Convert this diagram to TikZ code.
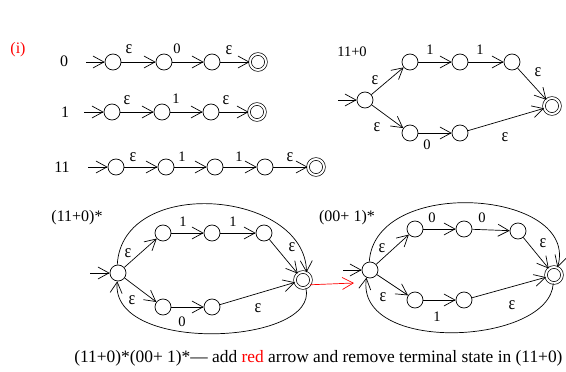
\documentclass[tikz,border=0pt]{standalone}
\usepackage{fontspec}
\usepackage{graphicx}
\setmainfont{Liberation Serif}
\usetikzlibrary{arrows.meta}
\newcommand{\myeps}{\scalebox{1.1}[1.3]{ε}}
\begin{document}
\begin{tikzpicture}[
 x=1pt,y=1pt,line width=0.7pt,
 every node/.style={font=\fontsize{14.5}{17}\selectfont},
 st/.style={circle,draw,minimum size=16pt,inner sep=0pt},
 acc/.style={circle,draw,minimum size=16pt,inner sep=0pt,double,double distance=2pt},
 >={Straight Barb[length=11pt,width=12pt]},
 tr/.style={->},
 lbl/.style={inner sep=0pt},
 big/.style={inner sep=0pt,font=\fontsize{16}{18}\selectfont}
]
\useasboundingbox (0,0) rectangle (566,-372);
\node[big,text=red] (ti) at (18,-50) {(i)};
% row 0
\node[big] (r0) at (64,-61) {0};
\coordinate (i0) at (86,-62);
\node[st] (a1) at (113,-62) {};
\node[st] (a2) at (164,-62) {};
\node[st] (a3) at (212,-62) {};
\node[acc] (a4) at (258,-62) {};
\draw[tr] (i0) -- (a1);
\draw[tr] (a1) -- (a2);
\draw[tr] (a2) -- (a3);
\draw[tr] (a3) -- (a4);
\node[lbl] (la1) at (129,-49) {\myeps};
\node[lbl] (la2) at (177,-49) {0};
\node[lbl] (la3) at (229,-50) {\myeps};
% row 1
\node[big] (r1) at (65,-112) {1};
\coordinate (i1) at (84,-112);
\node[st] (b1) at (112,-112) {};
\node[st] (b2) at (162,-112) {};
\node[st] (b3) at (211,-112) {};
\node[acc] (b4) at (257,-112) {};
\draw[tr] (i1) -- (b1);
\draw[tr] (b1) -- (b2);
\draw[tr] (b2) -- (b3);
\draw[tr] (b3) -- (b4);
\node[lbl] (lb1) at (127,-100) {\myeps};
\node[lbl] (lb2) at (176,-99) {1};
\node[lbl] (lb3) at (226,-100) {\myeps};
% row 11
\node[big] (r2) at (62,-167) {11};
\coordinate (i2) at (88,-167);
\node[st] (c1) at (116,-167) {};
\node[st] (c2) at (166,-167) {};
\node[st] (c3) at (215,-167) {};
\node[st] (c4) at (265,-167) {};
\node[acc] (c5) at (316,-167) {};
\draw[tr] (i2) -- (c1);
\draw[tr] (c1) -- (c2);
\draw[tr] (c2) -- (c3);
\draw[tr] (c3) -- (c4);
\draw[tr] (c4) -- (c5);
\node[lbl] (lc1) at (133,-157) {\myeps};
\node[lbl] (lc2) at (182,-157) {1};
\node[lbl] (lc3) at (239,-157) {1};
\node[lbl] (lc4) at (290,-157) {\myeps};
% 11+0
\node[lbl] (r3) at (352,-52) {11+0};
\coordinate (i3) at (338,-100);
\node[st] (d0) at (365,-100) {};
\node[st] (du1) at (410,-62) {};
\node[st] (du2) at (460,-62) {};
\node[st] (du3) at (512,-62) {};
\node[acc] (df) at (552,-106) {};
\node[st] (dl1) at (410,-133) {};
\node[st] (dl2) at (460,-133) {};
\draw[tr] (i3) -- (d0);
\draw[tr] (d0) -- (du1);
\draw[tr] (du1) -- (du2);
\draw[tr] (du2) -- (du3);
\draw[tr] (du3) -- (df);
\draw[tr] (d0) -- (dl1);
\draw[tr] (dl1) -- (dl2);
\draw[tr] (dl2) -- (df);
\node[lbl] (ld1) at (375,-80) {\myeps};
\node[lbl] (ld2) at (377,-127) {\myeps};
\node[lbl] (ld3) at (430,-50) {1};
\node[lbl] (ld4) at (480,-50) {1};
\node[lbl] (ld5) at (538,-72) {\myeps};
\node[lbl] (ld6) at (427,-145) {0};
\node[lbl] (ld7) at (505,-137) {\myeps};
% (11+0)*
\node[big] (r4) at (77,-218) {(11+0)*};
\coordinate (i4) at (90,-273);
\node[st] (e0) at (118,-273) {};
\node[st] (eu1) at (163,-233) {};
\node[st] (eu2) at (212,-233) {};
\node[st] (eu3) at (264,-233) {};
\node[acc] (ef) at (303,-280) {};
\node[st] (el1) at (163,-307) {};
\node[st] (el2) at (212,-307) {};
\draw[tr] (i4) -- (e0);
\draw[tr] (e0) -- (eu1);
\draw[tr] (eu1) -- (eu2);
\draw[tr] (eu2) -- (eu3);
\draw[tr] (eu3) -- (ef);
\draw[tr] (e0) -- (el1);
\draw[tr] (el1) -- (el2);
\draw[tr] (el2) -- (ef);
\draw[tr] (e0.95) .. controls (122,-175) and (305,-190) .. (ef.65);
\draw[tr] (ef.-70) .. controls (320,-345) and (110,-355) .. (e0.-95);
\node[lbl] (le1) at (183,-222) {1};
\node[lbl] (le2) at (233,-222) {1};
\node[lbl] (le3) at (292,-247) {\myeps};
\node[lbl] (le4) at (128,-253) {\myeps};
\node[lbl] (le5) at (132,-300) {\myeps};
\node[lbl] (le6) at (182,-322) {0};
\node[lbl] (le7) at (258,-308) {\myeps};
% (00+1)*
\node[big] (r5) at (347,-218) {(00+ 1)*};
\coordinate (i5) at (343,-270);
\node[st] (g0) at (370,-270) {};
\node[st] (gu1) at (415,-229) {};
\node[st] (gu2) at (464,-229) {};
\node[st] (gu3) at (518,-231) {};
\node[acc] (gf) at (554,-275) {};
\node[st] (gl1) at (415,-300) {};
\node[st] (gl2) at (464,-300) {};
\draw[tr] (i5) -- (g0);
\draw[tr] (g0) -- (gu1);
\draw[tr] (gu1) -- (gu2);
\draw[tr] (gu2) -- (gu3);
\draw[tr] (gu3) -- (gf);
\draw[tr] (g0) -- (gl1);
\draw[tr] (gl1) -- (gl2);
\draw[tr] (gl2) -- (gf);
\draw[tr] (g0.95) .. controls (375,-175) and (580,-190) .. (gf.65);
\draw[tr] (gf.-95) .. controls (550,-345) and (355,-355) .. (g0.-115);
\node[lbl] (lg1) at (432,-218) {0};
\node[lbl] (lg2) at (482,-218) {0};
\node[lbl] (lg3) at (543,-243) {\myeps};
\node[lbl] (lg4) at (382,-248) {\myeps};
\node[lbl] (lg5) at (383,-297) {\myeps};
\node[lbl] (lg6) at (437,-317) {1};
\node[lbl] (lg7) at (512,-305) {\myeps};
% red arrow
\coordinate (redend) at (354,-283);
\draw[tr,red] (ef.-35) -- (redend);
% caption
\node[lbl,anchor=west,font=\fontsize{17.4}{20}\selectfont] (cap) at (74,-358) {(11+0)*(00+ 1)*— add \textcolor{red}{red} arrow and remove terminal state in (11+0)};
\end{tikzpicture}
\end{document}
